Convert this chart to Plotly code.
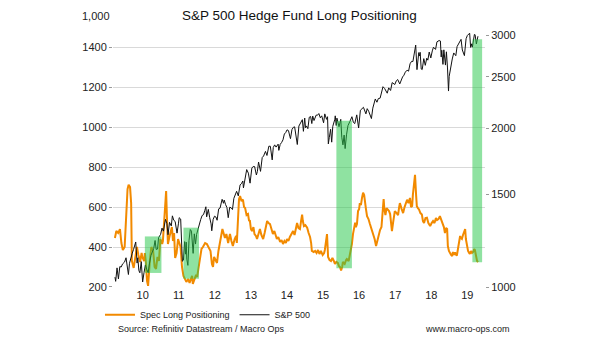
import pandas as pd
import plotly.graph_objects as go
from plotly.subplots import make_subplots

# ---------------- data ----------------
# Spec Long Positioning (left axis), time as decimal years
spec_years = [
    2009.73, 2009.77, 2009.82, 2009.87, 2009.91, 2009.95, 2010.00, 2010.04, 2010.08, 2010.11,
    2010.15, 2010.18, 2010.20, 2010.25, 2010.29, 2010.34, 2010.38, 2010.43, 2010.47, 2010.49,
    2010.54, 2010.56, 2010.59, 2010.62, 2010.65, 2010.67, 2010.70, 2010.74, 2010.79, 2010.83,
    2010.87, 2010.91, 2010.95, 2010.99, 2011.04, 2011.06, 2011.09, 2011.12, 2011.15, 2011.17,
    2011.20, 2011.24, 2011.28, 2011.31, 2011.34, 2011.37, 2011.40, 2011.44, 2011.48, 2011.52,
    2011.55, 2011.59, 2011.63, 2011.67, 2011.71, 2011.76, 2011.80, 2011.84, 2011.87, 2011.89,
    2011.94, 2011.98, 2012.01, 2012.05, 2012.09, 2012.13, 2012.17, 2012.23, 2012.28, 2012.34,
    2012.38, 2012.42, 2012.45, 2012.48, 2012.52, 2012.56, 2012.60, 2012.64, 2012.69, 2012.71,
    2012.75, 2012.78, 2012.82, 2012.87, 2012.89, 2012.92, 2012.96, 2013.00, 2013.05, 2013.09,
    2013.11, 2013.14, 2013.17, 2013.20, 2013.24, 2013.28, 2013.31, 2013.34, 2013.38, 2013.42,
    2013.45, 2013.47, 2013.50, 2013.53, 2013.57, 2013.60, 2013.64, 2013.67, 2013.71, 2013.75,
    2013.79, 2013.84, 2013.88, 2013.92, 2013.95, 2013.99, 2014.03, 2014.07, 2014.11, 2014.15,
    2014.20, 2014.22, 2014.26, 2014.31, 2014.35, 2014.39, 2014.43, 2014.47, 2014.50, 2014.54,
    2014.58, 2014.63, 2014.67, 2014.71, 2014.75, 2014.78, 2014.82, 2014.86, 2014.89, 2014.92,
    2014.94, 2014.97, 2015.01, 2015.06, 2015.10, 2015.14, 2015.17, 2015.19, 2015.24, 2015.28,
    2015.32, 2015.36, 2015.40, 2015.44, 2015.49, 2015.53, 2015.55, 2015.58, 2015.61, 2015.64,
    2015.68, 2015.72, 2015.76, 2015.80, 2015.83, 2015.87, 2015.91, 2015.94, 2015.97, 2016.00,
    2016.03, 2016.05, 2016.10, 2016.14, 2016.16, 2016.21, 2016.25, 2016.28, 2016.30, 2016.33,
    2016.36, 2016.39, 2016.41, 2016.44, 2016.47, 2016.50, 2016.52, 2016.55, 2016.58, 2016.61,
    2016.64, 2016.66, 2016.69, 2016.72, 2016.76, 2016.80, 2016.84, 2016.89, 2016.93, 2016.97,
    2017.00, 2017.04, 2017.08, 2017.12, 2017.15, 2017.18, 2017.20, 2017.23, 2017.26, 2017.29,
    2017.33, 2017.36, 2017.38, 2017.41, 2017.44, 2017.47, 2017.49, 2017.54, 2017.58, 2017.61,
    2017.63, 2017.68, 2017.72, 2017.76, 2017.80, 2017.83, 2017.87, 2017.91, 2017.94, 2017.97,
    2017.99, 2018.02, 2018.05, 2018.08, 2018.10, 2018.13, 2018.16, 2018.20, 2018.24, 2018.27,
    2018.30, 2018.34, 2018.38, 2018.42, 2018.47, 2018.51, 2018.55, 2018.59, 2018.63, 2018.66,
    2018.70, 2018.74, 2018.77, 2018.80, 2018.83, 2018.85, 2018.88, 2018.91, 2018.94, 2018.96,
    2018.99, 2019.02, 2019.05, 2019.08, 2019.10, 2019.13, 2019.16, 2019.19, 2019.21, 2019.24,
    2019.27, 2019.30, 2019.32, 2019.35, 2019.38, 2019.41, 2019.44, 2019.46, 2019.49, 2019.52,
    2019.55, 2019.57, 2019.60, 2019.63, 2019.66, 2019.69, 2019.71, 2019.74, 2019.77, 2019.80,
]
spec_values = [
    445, 480, 470, 490, 420, 385, 400, 560, 690, 712,
    700, 620, 330, 295, 350, 400, 360, 325, 370, 350,
    330, 370, 320, 230, 205, 280, 335, 400, 380, 300,
    290, 350, 330, 440, 415, 430, 520, 640, 680, 560,
    415, 450, 485, 500, 430, 470, 345, 370, 440, 420,
    400, 300, 255, 240, 225, 240, 220, 240, 255, 215,
    245, 260, 250, 300, 360, 390, 400, 420, 415, 395,
    380, 315, 300, 350, 330, 320, 380, 430, 470, 490,
    455, 445, 465, 420, 440, 465, 430, 405, 440, 455,
    420, 580, 640, 655, 630, 638, 600, 595, 560, 565,
    530, 535, 490, 480, 500, 465, 455, 440, 470, 490,
    460, 440, 470, 500, 530, 520, 515, 490, 465, 480,
    445, 440, 450, 425, 435, 415, 430, 420, 440, 430,
    450, 470, 480, 460, 500, 520, 495, 490, 530, 562,
    530, 505, 510, 497, 470, 450, 420, 380, 375, 380,
    370, 385, 365, 380, 360, 370, 385, 420, 465, 350,
    335, 330, 345, 330, 315, 325, 320, 305, 300, 283,
    300, 325, 315, 335, 340, 330, 370, 380, 415, 465,
    490, 522, 500, 515, 580, 590, 620, 610, 646, 672,
    660, 640, 590, 555, 540, 515, 495, 465, 440, 405,
    430, 460, 485, 500, 590, 640, 590, 560, 595, 590,
    580, 565, 540, 480, 520, 560, 580, 570, 560, 600,
    620, 590, 570, 600, 625, 637, 620, 646, 600, 605,
    660, 720, 762, 660, 605, 595, 588, 570, 563, 530,
    520, 545, 547, 520, 505, 520, 530, 520, 545, 535,
    540, 555, 540, 530, 510, 500, 470, 495, 490, 405,
    380, 365, 360, 355, 375, 360, 373, 360, 357, 390,
    430, 455, 445, 440, 460, 475, 490, 440, 400, 380,
    370, 365, 380, 370, 375, 390, 385, 360, 330, 325,
]

# S&P 500 (right axis, log scale)
sp_dates = [
    "2009-09-25", "2009-10-02", "2009-10-16", "2009-10-30", "2009-11-13", "2009-11-27", "2009-12-11", "2009-12-31",
    "2010-01-15", "2010-01-29", "2010-02-08", "2010-02-19", "2010-03-05", "2010-03-19", "2010-04-01", "2010-04-23",
    "2010-05-07", "2010-05-14", "2010-05-25", "2010-06-04", "2010-06-18", "2010-07-02", "2010-07-16", "2010-07-30",
    "2010-08-13", "2010-08-27", "2010-09-10", "2010-09-24", "2010-10-08", "2010-10-22", "2010-11-05", "2010-11-16",
    "2010-11-30", "2010-12-10", "2010-12-31",
    "2011-01-14", "2011-01-28", "2011-02-18", "2011-03-04", "2011-03-16", "2011-03-31", "2011-04-18", "2011-04-29",
    "2011-05-13", "2011-05-27", "2011-06-15", "2011-06-30", "2011-07-07", "2011-07-22", "2011-08-08", "2011-08-19",
    "2011-08-31", "2011-09-09", "2011-09-16", "2011-09-22", "2011-10-03", "2011-10-14", "2011-10-27", "2011-11-08",
    "2011-11-25", "2011-12-07", "2011-12-19", "2011-12-30",
    "2012-01-13", "2012-01-27", "2012-02-10", "2012-02-24", "2012-03-09", "2012-03-23", "2012-04-02", "2012-04-10",
    "2012-04-27", "2012-05-11", "2012-05-25", "2012-06-01", "2012-06-15", "2012-06-29", "2012-07-13", "2012-07-25",
    "2012-08-10", "2012-08-24", "2012-09-14", "2012-09-28", "2012-10-05", "2012-10-19", "2012-11-02", "2012-11-15",
    "2012-11-30", "2012-12-14", "2012-12-28",
    "2013-01-11", "2013-01-25", "2013-02-08", "2013-02-25", "2013-03-15", "2013-03-28", "2013-04-12", "2013-04-18",
    "2013-05-03", "2013-05-21", "2013-06-07", "2013-06-24", "2013-07-12", "2013-07-26", "2013-08-09", "2013-08-27",
    "2013-09-06", "2013-09-18", "2013-10-08", "2013-10-25", "2013-11-08", "2013-11-27", "2013-12-12", "2013-12-31",
    "2014-01-15", "2014-02-03", "2014-02-14", "2014-02-28", "2014-03-14", "2014-03-28", "2014-04-04", "2014-04-11",
    "2014-04-25", "2014-05-09", "2014-05-23", "2014-06-06", "2014-06-20", "2014-07-03", "2014-07-18", "2014-07-31",
    "2014-08-07", "2014-08-22", "2014-09-05", "2014-09-18", "2014-10-01", "2014-10-15", "2014-10-31", "2014-11-14",
    "2014-11-28", "2014-12-05", "2014-12-16", "2014-12-29",
    "2015-01-06", "2015-01-16", "2015-01-30", "2015-02-13", "2015-02-27", "2015-03-11", "2015-03-20", "2015-04-02",
    "2015-04-24", "2015-05-08", "2015-05-21", "2015-06-05", "2015-06-19", "2015-06-29", "2015-07-08", "2015-07-20",
    "2015-08-07", "2015-08-17", "2015-08-25", "2015-09-04", "2015-09-17", "2015-09-28", "2015-10-09", "2015-10-30",
    "2015-11-03", "2015-11-13", "2015-11-20", "2015-12-11", "2015-12-29",
    "2016-01-08", "2016-01-20", "2016-02-01", "2016-02-11", "2016-02-26", "2016-03-11", "2016-03-31", "2016-04-20",
    "2016-05-05", "2016-05-19", "2016-06-08", "2016-06-27", "2016-07-15", "2016-08-15", "2016-09-09", "2016-09-22",
    "2016-10-07", "2016-11-04", "2016-11-18", "2016-12-13", "2016-12-30",
    "2017-01-13", "2017-01-31", "2017-02-15", "2017-03-01", "2017-03-17", "2017-04-13", "2017-04-28", "2017-05-17",
    "2017-06-02", "2017-06-16", "2017-06-29", "2017-07-14", "2017-07-28", "2017-08-18", "2017-08-31", "2017-09-15",
    "2017-09-29", "2017-10-13", "2017-10-31", "2017-11-15", "2017-11-30", "2017-12-15", "2017-12-29",
    "2018-01-12", "2018-01-26", "2018-02-08", "2018-02-16", "2018-02-26", "2018-03-08", "2018-03-12", "2018-03-23",
    "2018-04-02", "2018-04-18", "2018-05-03", "2018-05-18", "2018-05-29", "2018-06-12", "2018-06-28", "2018-07-13",
    "2018-07-25", "2018-08-15", "2018-08-29", "2018-09-20", "2018-10-03", "2018-10-11", "2018-10-17", "2018-10-29",
    "2018-11-07", "2018-11-23", "2018-12-03", "2018-12-14", "2018-12-24", "2018-12-31",
    "2019-01-11", "2019-01-31", "2019-02-15", "2019-03-08", "2019-03-21", "2019-04-12", "2019-04-30", "2019-05-13",
    "2019-05-31", "2019-06-03", "2019-06-20", "2019-07-03", "2019-07-26", "2019-08-05", "2019-08-16", "2019-08-23",
    "2019-09-12", "2019-09-19", "2019-10-02", "2019-10-11", "2019-10-18",
]
sp_values = [
    1044, 1025, 1087, 1036, 1093, 1091, 1106, 1115,
    1136, 1073, 1056, 1109, 1138, 1159, 1178, 1217,
    1110, 1136, 1074, 1064, 1117, 1022, 1065, 1101,
    1079, 1065, 1110, 1148, 1165, 1183, 1225, 1178,
    1180, 1240, 1258,
    1293, 1276, 1343, 1321, 1256, 1326, 1305, 1364,
    1338, 1331, 1265, 1321, 1353, 1345, 1119, 1124,
    1219, 1154, 1216, 1129, 1099, 1225, 1285, 1276,
    1158, 1261, 1206, 1258,
    1289, 1316, 1343, 1366, 1371, 1397, 1419, 1358,
    1403, 1353, 1317, 1278, 1343, 1362, 1357, 1338,
    1406, 1411, 1466, 1441, 1461, 1433, 1414, 1353,
    1416, 1413, 1402,
    1472, 1503, 1518, 1488, 1561, 1569, 1588, 1541,
    1614, 1669, 1643, 1573, 1680, 1692, 1691, 1630,
    1655, 1725, 1656, 1759, 1771, 1807, 1775, 1848,
    1848, 1741, 1838, 1859, 1841, 1857, 1865, 1815,
    1863, 1878, 1900, 1949, 1962, 1985, 1978, 1931,
    1910, 1988, 2007, 2011, 1946, 1862, 2018, 2040,
    2068, 2075, 1972, 2090,
    2003, 2019, 1995, 2097, 2104, 2040, 2108, 2067,
    2117, 2116, 2131, 2092, 2110, 2058, 2047, 2128,
    2078, 2102, 1867, 1921, 1990, 1881, 2015, 2079,
    2110, 2023, 2089, 2012, 2078,
    1922, 1859, 1940, 1829, 1948, 2022, 2060, 2102,
    2050, 2040, 2119, 2001, 2162, 2190, 2128, 2177,
    2153, 2085, 2182, 2271, 2239,
    2275, 2279, 2349, 2396, 2378, 2329, 2384, 2357,
    2439, 2433, 2419, 2459, 2472, 2425, 2472, 2500,
    2519, 2553, 2575, 2564, 2648, 2676, 2674,
    2786, 2873, 2581, 2732, 2780, 2739, 2784, 2588,
    2582, 2708, 2630, 2713, 2690, 2787, 2716, 2801,
    2846, 2819, 2914, 2931, 2925, 2728, 2809, 2641,
    2814, 2633, 2790, 2600, 2351, 2507,
    2596, 2704, 2776, 2743, 2855, 2907, 2946, 2812,
    2752, 2744, 2954, 2996, 3026, 2844, 2889, 2847,
    3009, 3006, 2887, 2970, 2986,
]

# highlighted periods (decimal years, left-axis value range)
band_start = [2010.56, 2011.63, 2015.87, 2019.64]
band_end = [2011.02, 2012.06, 2016.30, 2019.91]
band_low = [270, 241, 294, 324]
band_high = [453, 497, 1033, 1441]

year_labels = ["10", "11", "12", "13", "14", "15", "16", "17", "18", "19"]
year_centers = [2010.5 + i for i in range(len(year_labels))]
left_ticks = [200, 400, 600, 800, 1000, 1200, 1400]
right_ticks = [1000, 1500, 2000, 2500, 3000]

# ---------------- figure ----------------
def to_decimal_year(s):
    d = pd.Timestamp(s)
    start = pd.Timestamp(year=d.year, month=1, day=1)
    end = pd.Timestamp(year=d.year + 1, month=1, day=1)
    return d.year + (d - start) / (end - start)

sp_x = [to_decimal_year(s) for s in sp_dates]

FONT = "Liberation Sans, Arial, sans-serif"
ORANGE = "#F28A00"

fig = make_subplots(specs=[[{"secondary_y": True}]])
fig.add_trace(go.Scatter(x=spec_years, y=spec_values, mode="lines",
                         name="Spec Long Positioning",
                         line=dict(color=ORANGE, width=2)), secondary_y=False)
fig.add_trace(go.Scatter(x=sp_x, y=sp_values, mode="lines", name="S&P 500",
                         line=dict(color="#111111", width=1)), secondary_y=True)

for x0, x1, y0, y1 in zip(band_start, band_end, band_low, band_high):
    fig.add_shape(type="rect", xref="x", yref="y", x0=x0, x1=x1, y0=y0, y1=y1,
                  fillcolor="rgba(40,200,75,0.52)", line=dict(width=0), layer="above")

fig.update_xaxes(domain=[0, 1], range=[2009.677, 2019.99], tickvals=year_centers,
                 ticktext=year_labels,
                 showgrid=False, zeroline=False, showline=False, ticks="",
                 tickfont=dict(size=11, color="#222222", family=FONT))
fig.update_yaxes(range=[199.5, 1487.8], tickvals=left_ticks, tickformat="d",
                 showgrid=True, gridcolor="#d9d9d9", gridwidth=1, zeroline=False,
                 ticks="outside", ticklen=3, tickcolor="#9a9a9a",
                 tickfont=dict(size=11, color="#222222", family=FONT),
                 secondary_y=False)
fig.update_yaxes(type="log", range=[3, 3.4869], tickvals=right_ticks,
                 ticktext=[str(v) for v in right_ticks],
                 showgrid=False, zeroline=False, ticks="outside", ticklen=3,
                 tickcolor="#9a9a9a",
                 tickfont=dict(size=11, color="#222222", family=FONT),
                 secondary_y=True)

fig.add_annotation(text="S&P 500 Hedge Fund Long Positioning", xref="paper", yref="paper",
                   x=0.5, y=1.0577, xanchor="center", yanchor="middle", showarrow=False,
                   font=dict(size=13.5, color="#111111", family=FONT))
fig.add_annotation(text="1,000", xref="paper", yref="paper", x=-0.004, y=1.055,
                   xanchor="right", yanchor="middle", showarrow=False,
                   font=dict(size=11, color="#222222", family=FONT))
fig.add_annotation(text="Source: Refinitiv Datastream / Macro Ops", xref="paper", yref="paper",
                   x=0.008, y=-0.165, xanchor="left", yanchor="middle", showarrow=False,
                   font=dict(size=9, color="#222222", family=FONT))
fig.add_annotation(text="www.macro-ops.com", xref="paper", yref="paper",
                   x=1.0718, y=-0.165, xanchor="right", yanchor="middle", showarrow=False,
                   font=dict(size=9, color="#222222", family=FONT))

fig.update_layout(
    width=605, height=341,
    margin=dict(l=113, r=120, t=30, b=51),
    paper_bgcolor="white", plot_bgcolor="white",
    showlegend=True,
    legend=dict(orientation="h", x=-0.035, y=-0.108, xanchor="left", yanchor="middle",
                font=dict(size=9, color="#222222", family=FONT),
                bgcolor="rgba(0,0,0,0)", itemwidth=30, tracegroupgap=0),
)

fig.write_html("out.html")
